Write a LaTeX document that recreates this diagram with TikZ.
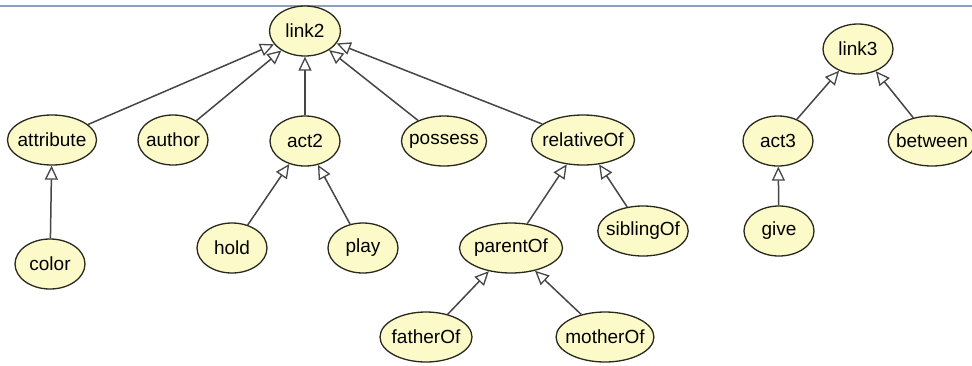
\documentclass[tikz,border=0pt]{standalone}
\usepackage{fontspec}
\setmainfont{Liberation Sans}
\usetikzlibrary{arrows.meta, shapes.geometric}
\definecolor{ClsFill}{RGB}{252, 250, 200}
\definecolor{ClsLine}{RGB}{40, 40, 30}
\definecolor{EdgeGray}{RGB}{70, 70, 70}
\definecolor{FrameBlue}{RGB}{140, 160, 190}

\begin{document}
\begin{tikzpicture}[
                x=1pt, y=-1pt,
                cls/.style={ellipse, draw=ClsLine, fill=ClsFill, line width=1.3pt,
                            minimum width=#1, minimum height=50pt, inner sep=-5pt,
                            font=\fontsize{19}{21}\selectfont},
                cls/.default=70pt,
                isa/.style={-{Triangle[open, length=14pt, width=13pt, line width=1.3pt]},
                            EdgeGray, line width=1.5pt}
            ]
                \clip (0,0) rectangle (972,365);
                \fill[white] (0,0) rectangle (972,365);
                \draw[FrameBlue, line width=1.5pt] (0,6) -- (972,6);

                % first tree
                \node[cls=71pt] (link2) at (305,31) {link2};
                \node[cls=89pt] (attribute) at (52,140) {attribute};
                \node[cls] (author) at (173,140) {author};
                \node[cls] (act2) at (305,141) {act2};
                \node[cls=85pt] (possess) at (444,141) {possess};
                \node[cls=103pt] (relativeOf) at (583,140) {relativeOf};
                \node[cls] (color) at (50,264) {color};
                \node[cls] (hold) at (232,248) {hold};
                \node[cls] (play) at (363,248) {play};
                \node[cls=103pt] (parentOf) at (511,248) {parentOf};
                \node[cls=88pt] (siblingOf) at (643,231) {siblingOf};
                \node[cls=92pt] (fatherOf) at (426,337) {fatherOf};
                \node[cls=86pt] (motherOf) at (605,337) {motherOf};

                % second tree
                \node[cls] (link3) at (858,49) {link3};
                \node[cls] (act3) at (778,141) {act3};
                \node[cls=80pt] (between) at (932,141) {between};
                \node[cls] (give) at (779,231) {give};

                \draw[isa] (attribute) -- (link2);
                \draw[isa] (author) -- (link2);
                \draw[isa] (act2) -- (link2);
                \draw[isa] (possess) -- (link2);
                \draw[isa] (relativeOf) -- (link2);
                \draw[isa] (color) -- (attribute);
                \draw[isa] (hold) -- (act2);
                \draw[isa] (play) -- (act2);
                \draw[isa] (parentOf) -- (relativeOf);
                \draw[isa] (siblingOf) -- (relativeOf);
                \draw[isa] (fatherOf) -- (parentOf);
                \draw[isa] (motherOf) -- (parentOf);
                \draw[isa] (act3) -- (link3);
                \draw[isa] (between) -- (link3);
                \draw[isa] (give) -- (act3);
            \end{tikzpicture}
\end{document}
